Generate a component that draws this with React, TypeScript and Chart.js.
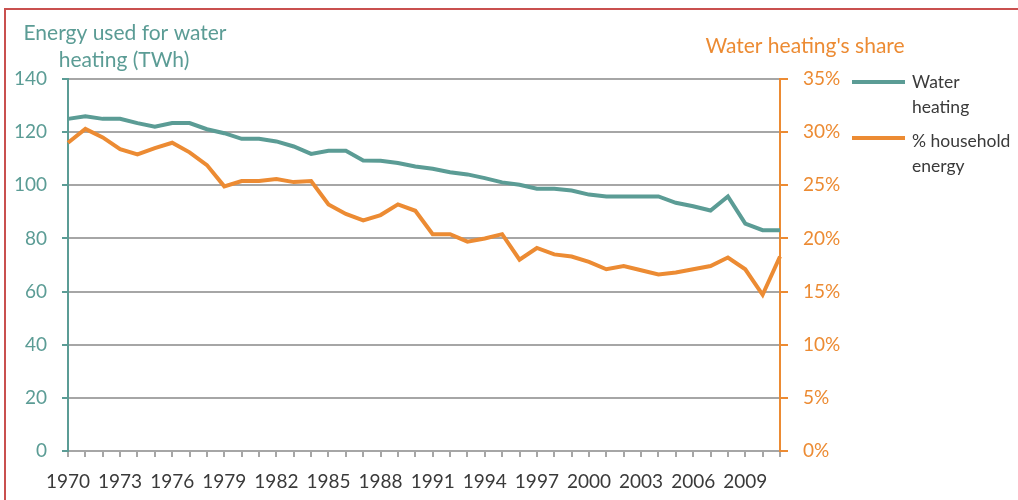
import React, { useEffect, useRef } from "react";
import { Chart, registerables } from "chart.js";

Chart.register(...registerables);

const years: string[] = [
  "1970", "1971", "1972", "1973", "1974", "1975", "1976", "1977", "1978", "1979",
  "1980", "1981", "1982", "1983", "1984", "1985", "1986", "1987", "1988", "1989",
  "1990", "1991", "1992", "1993", "1994", "1995", "1996", "1997", "1998", "1999",
  "2000", "2001", "2002", "2003", "2004", "2005", "2006", "2007", "2008", "2009",
  "2010", "2011",
];

const waterHeatingTWh: number[] = [
  125, 126, 125, 125, 123.4, 122, 123.4, 123.4, 121.1, 119.6,
  117.5, 117.5, 116.5, 114.6, 111.8, 113, 113, 109.3, 109.2, 108.4,
  107.1, 106.2, 104.9, 104.1, 102.7, 101.1, 100.2, 98.7, 98.7, 98,
  96.5, 95.8, 95.8, 95.8, 95.8, 93.4, 92.1, 90.5, 95.8, 85.6,
  83.1, 83.1,
];

const householdSharePct: number[] = [
  29, 30.3, 29.5, 28.4, 27.9, 28.5, 29.0, 28.1, 26.9, 24.9,
  25.4, 25.4, 25.6, 25.3, 25.4, 23.2, 22.3, 21.7, 22.2, 23.2,
  22.6, 20.4, 20.4, 19.7, 20.0, 20.4, 18.0, 19.1, 18.5, 18.3,
  17.8, 17.1, 17.4, 17.0, 16.6, 16.8, 17.1, 17.4, 18.2, 17.1,
  14.7, 18.3,
];

const seriesNames: string[] = ["Water heating", "% household energy"];
const legendLines: string[][] = [["Water", "heating"], ["% household", "energy"]];
const leftTitleLines: string[] = ["Energy used for water", "heating (TWh)"];
const rightTitle = "Water heating's share";

const TEAL = "#5B9C95";
const ORANGE = "#EC8B33";
const GRID = "#A6A6A6";
const TEXT = "#3A3A3A";
const FONT = "Lato";

const overlayPlugin = {
  id: "overlay",
  afterDraw(chart: any) {
    const ctx = chart.ctx as CanvasRenderingContext2D;
    ctx.save();
    ctx.textBaseline = "alphabetic";
    // left axis title
    ctx.font = `21px ${FONT}`;
    ctx.fillStyle = TEAL;
    ctx.textAlign = "center";
    ctx.fillText(leftTitleLines[0], 125, 40);
    ctx.fillText(leftTitleLines[1], 124, 67);
    // right axis title
    ctx.fillStyle = ORANGE;
    ctx.fillText(rightTitle, 805, 53);
    // legend
    const colors = [TEAL, ORANGE];
    const lineYs = [82, 138];
    const textYs = [[88, 113], [147, 172]];
    ctx.textAlign = "left";
    ctx.font = `17.5px ${FONT}`;
    for (let i = 0; i < 2; i++) {
      ctx.strokeStyle = colors[i];
      ctx.lineWidth = 4;
      ctx.beginPath();
      ctx.moveTo(852, lineYs[i]);
      ctx.lineTo(905, lineYs[i]);
      ctx.stroke();
      ctx.fillStyle = TEXT;
      legendLines[i].forEach((t, j) => ctx.fillText(t, 912, textYs[i][j]));
    }
    ctx.restore();
  },
};

export default function App() {
  const canvasRef = useRef<HTMLCanvasElement | null>(null);

  useEffect(() => {
    if (!canvasRef.current) return;
    Chart.defaults.font.family = FONT;
    const chart = new Chart(canvasRef.current, {
      type: "line",
      data: {
        labels: years,
        datasets: [
          {
            label: seriesNames[0],
            data: waterHeatingTWh,
            borderColor: TEAL,
            backgroundColor: TEAL,
            borderWidth: 4,
            pointRadius: 0,
            tension: 0,
            yAxisID: "y",
          },
          {
            label: seriesNames[1],
            data: householdSharePct,
            borderColor: ORANGE,
            backgroundColor: ORANGE,
            borderWidth: 4,
            pointRadius: 0,
            tension: 0,
            yAxisID: "y1",
          },
        ],
      },
      options: {
        responsive: false,
        animation: false,
        layout: { padding: { top: 79, left: 0, right: 0, bottom: 0 } },
        plugins: {
          legend: { display: false },
          tooltip: { enabled: false },
        },
        scales: {
          x: {
            type: "category",
            offset: false,
            grid: {
              drawOnChartArea: false,
              drawTicks: true,
              tickLength: 6,
              tickColor: GRID,
              lineWidth: 2,
            },
            border: { color: GRID, width: 2 },
            ticks: {
              autoSkip: false,
              maxRotation: 0,
              minRotation: 0,
              padding: 13,
              color: TEXT,
              font: { size: 19, family: FONT },
              callback: (_v: any, i: number) => (i % 3 === 0 ? years[i] : ""),
            },
            afterFit: (s: any) => {
              s.height = 49;
            },
          },
          y: {
            position: "left",
            min: 0,
            max: 140,
            grid: {
              color: GRID,
              lineWidth: 2,
              tickLength: 6,
              tickColor: TEAL,
            },
            border: { color: TEAL, width: 2 },
            ticks: {
              stepSize: 20,
              padding: 15,
              color: TEAL,
              font: { size: 19, family: FONT },
            },
            afterFit: (s: any) => {
              s.width = 68;
            },
          },
          y1: {
            position: "right",
            min: 0,
            max: 35,
            grid: {
              drawOnChartArea: false,
              drawTicks: true,
              tickLength: 8,
              tickColor: ORANGE,
              lineWidth: 2,
            },
            border: { color: ORANGE, width: 2 },
            ticks: {
              stepSize: 5,
              padding: 15,
              color: ORANGE,
              font: { size: 19, family: FONT },
              callback: (v: any) => `${v}%`,
            },
            afterFit: (s: any) => {
              s.width = 238;
            },
          },
        },
      },
      plugins: [overlayPlugin],
    });
    return () => chart.destroy();
  }, []);

  return (
    <div style={{ position: "absolute", left: 0, top: 0, width: 1018, height: 500, background: "#fff", overflow: "hidden" }}>
      <div
        style={{
          position: "absolute",
          left: 4,
          top: 8,
          right: -10,
          bottom: -10,
          borderTop: "2px solid #C9504F",
          borderLeft: "2px solid #C9504F",
        }}
      />
      <canvas ref={canvasRef} width={1018} height={500} style={{ position: "absolute", left: 0, top: 0 }} />
    </div>
  );
}
